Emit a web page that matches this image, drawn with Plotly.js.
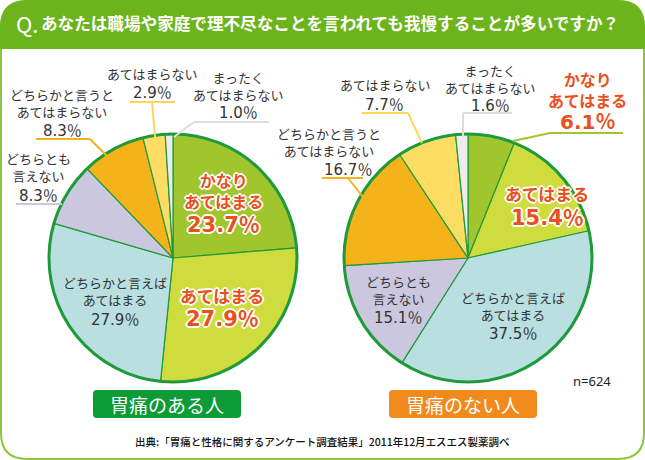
<!DOCTYPE html>
<html><head><meta charset="utf-8">
<script src="https://cdn.plot.ly/plotly-3.0.1.min.js"></script>
<style>html,body{margin:0;padding:0;background:#fff;}</style>
</head><body>
<div id="chart" style="width:645px;height:460px;"></div>
<script>
// ---------- data ----------
const categoryLines = [
  ["かなり", "あてはまる"],
  ["あてはまる"],
  ["どちらかと言えば", "あてはまる"],
  ["どちらとも", "言えない"],
  ["どちらかと言うと", "あてはまらない"],
  ["あてはまらない"],
  ["まったく", "あてはまらない"]
];
const categories = categoryLines.map(l => l.join(""));
const withPain = [23.7, 27.9, 27.9, 8.3, 8.3, 2.9, 1.0];
const withoutPain = [6.1, 15.4, 37.5, 15.1, 16.7, 7.7, 1.6];
const groupLabels = ["胃痛のある人", "胃痛のない人"];
const sliceColors = ["#a0c52d", "#cfdc3d", "#b9dfe0", "#cbc7df", "#f4b31b", "#fddc64", "#ececec"];
const titleText = "あなたは職場や家庭で理不尽なことを言われても我慢することが多いですか？";
const sourceText = "出典:「胃痛と性格に関するアンケート調査結果」2011年12月エスエス製薬調べ";
const sampleSize = 624;

// ---------- helpers ----------
const W = 645, H = 460;
const px = x => x / W;
const py = y => 1 - y / H;
const JP = '"Noto Sans CJK JP", "Noto Sans", sans-serif';
const NUM = '"DejaVu Sans", "Noto Sans CJK JP", sans-serif';
const HOT = "#e8511c";
const DARK = "#333333";
const GREEN = "#1e9a3a";
const whiteOutline = "2px 0 0 #fff, -2px 0 0 #fff, 0 2px 0 #fff, 0 -2px 0 #fff, 1px 1px 0 #fff, -1px -1px 0 #fff, 1px -1px 0 #fff, -1px 1px 0 #fff";

function P(x, y) { return px(x).toFixed(5) + "," + py(y).toFixed(5); }
function roundRect(x0, y0, x1, y1, r) {
  return "M" + P(x0 + r, y0) + " L" + P(x1 - r, y0) + " Q" + P(x1, y0) + " " + P(x1, y0 + r) +
    " L" + P(x1, y1 - r) + " Q" + P(x1, y1) + " " + P(x1 - r, y1) +
    " L" + P(x0 + r, y1) + " Q" + P(x0, y1) + " " + P(x0, y1 - r) +
    " L" + P(x0, y0 + r) + " Q" + P(x0, y0) + " " + P(x0 + r, y0) + " Z";
}

const pies = [
  { values: withPain, cx: 173, cy: 258, r: 124 },
  { values: withoutPain, cx: 468, cy: 258, r: 124 }
];

const traces = pies.map(p => ({
  type: "pie",
  values: p.values,
  labels: categories,
  sort: false,
  direction: "clockwise",
  rotation: 0,
  marker: { colors: sliceColors, line: { color: GREEN, width: 1.2 } },
  textinfo: "none",
  hoverinfo: "skip",
  showlegend: false,
  domain: { x: [px(p.cx - p.r), px(p.cx + p.r)], y: [py(p.cy + p.r), py(p.cy - p.r)] }
}));

const shapes = [];
const annotations = [];

// frame + header
shapes.push({ type: "path", layer: "below", xref: "paper", yref: "paper",
  path: roundRect(1, 1, 644, 459, 26), fillcolor: "#ffffff", line: { color: "#8cc63f", width: 2 } });
shapes.push({ type: "path", layer: "below", xref: "paper", yref: "paper",
  path: "M" + P(0, 49) + " L" + P(0, 28) + " Q" + P(0, 0) + " " + P(28, 0) + " L" + P(617, 0) +
    " Q" + P(645, 0) + " " + P(645, 28) + " L" + P(645, 49) + " Z",
  fillcolor: "#6cb41c", line: { width: 0 } });

// outer pie rings
pies.forEach(p => shapes.push({ type: "circle", layer: "above", xref: "paper", yref: "paper",
  x0: px(p.cx - p.r), x1: px(p.cx + p.r), y0: py(p.cy + p.r), y1: py(p.cy - p.r),
  line: { color: GREEN, width: 3 } }));

function seg(x0, y0, x1, y1, color) {
  shapes.push({ type: "line", layer: "above", xref: "paper", yref: "paper",
    x0: px(x0), y0: py(y0), x1: px(x1), y1: py(y1), line: { color: color, width: 2 } });
}
function txt(text, x, y, size, color, opts) {
  opts = opts || {};
  annotations.push({ text: text, x: px(x), y: py(y), xref: "paper", yref: "paper",
    showarrow: false, xanchor: opts.anchor || "center", yanchor: "middle",
    borderpad: 0, borderwidth: 0,
    font: Object.assign({ family: opts.family || JP, size: size, color: color,
      weight: opts.weight || "normal" }, opts.shadow ? { shadow: opts.shadow } : {}) });
}
const pct = v => v.toFixed(1) + "％";

// label specs: [pieIndex, catIndex, x, firstLineY, lastLineY, valueY, style, valueX]
const labelSpecs = [
  [0, 0, 223, 180, 200, 225, "hot"],
  [0, 1, 222, 295, 295, 319, "hot"],
  [0, 2, 115, 282, 299, 320, "plain"],
  [0, 3, 38, 158, 176, 196, "plain"],
  [0, 4, 62, 93, 112, 131, "plain"],
  [0, 5, 152, 74, 74, 93, "plain"],
  [0, 6, 238, 78, 95, 113, "plain"],
  [1, 0, 587, 80, 100, 122, "hotPlain"],
  [1, 1, 547, 193, 193, 218, "hot"],
  [1, 2, 513, 297, 314, 334, "plain"],
  [1, 3, 398, 282, 298, 318, "plain"],
  [1, 4, 329, 133, 150, 170, "plain", 348],
  [1, 5, 385, 85, 85, 105, "plain"],
  [1, 6, 490, 71, 88, 106, "plain"]
];
labelSpecs.forEach(s => {
  const [pi, ci, x, y0, y1, vy, style, vx] = s;
  const value = pies[pi].values[ci];
  const name = categoryLines[ci].join("<br>");
  const ny = (y0 + y1) / 2;
  if (style === "plain") {
    txt(name, x, ny, 13, DARK);
    txt(pct(value), vx || x, vy, 15, DARK, { family: NUM });
  } else {
    const sh = style === "hot" ? whiteOutline : null;
    const fs = categoryLines[ci].length > 1 ? 16 : 17;
    txt(name, x, ny, fs, HOT, { weight: "bold", shadow: sh });
    txt(pct(value), x, vy, style === "hot" ? 21 : 20, HOT, { weight: "bold", shadow: sh, family: NUM });
  }
});

// leader lines
seg(130, 102, 175, 102, "#fcd85a"); seg(152, 102, 155, 137, "#fcd85a");
seg(194, 122, 269, 122, "#dddddd"); seg(194, 122, 174, 137, "#dddddd");
seg(36, 139, 90, 139, "#f4b31b"); seg(90, 139, 107, 156, "#f4b31b");
seg(16, 204, 62, 204, "#cbc7df");
seg(322, 178, 363, 178, "#f4b31b"); seg(348, 178, 363, 197, "#f4b31b");
seg(362, 113, 408, 113, "#fcd85a"); seg(408, 113, 422, 143, "#fcd85a");
seg(463, 113, 512, 113, "#dddddd"); seg(463, 113, 463, 137, "#dddddd");
seg(550, 133, 623, 133, "#a0c52d"); seg(550, 133, 513, 141, "#a0c52d");

// group label boxes
const boxColors = ["#0c9b36", "#f08a1d"];
const boxes = [[93, 241], [389, 537]];
groupLabels.forEach((g, i) => {
  shapes.push({ type: "path", layer: "below", xref: "paper", yref: "paper",
    path: roundRect(boxes[i][0], 390, boxes[i][1], 418, 4), fillcolor: boxColors[i], line: { width: 0 } });
  txt(g, (boxes[i][0] + boxes[i][1]) / 2, 404, 19, "#ffffff");
});

// title, n, source
txt("Q.", 16, 23, 22, "#ffffff", { anchor: "left" });
txt(titleText, 41, 23, 16.6, "#ffffff", { anchor: "left", weight: "bold" });
txt("n=" + sampleSize, 592, 381, 13, "#222222", { family: '"Noto Sans", sans-serif' });
txt(sourceText, 322, 441, 10.5, "#111111", { weight: 500 });

Plotly.newPlot("chart", traces, {
  width: W, height: H,
  margin: { l: 0, r: 0, t: 0, b: 0 },
  paper_bgcolor: "#ffffff",
  shapes: shapes,
  annotations: annotations
}, { displayModeBar: false, staticPlot: true });
</script>
</body></html>
